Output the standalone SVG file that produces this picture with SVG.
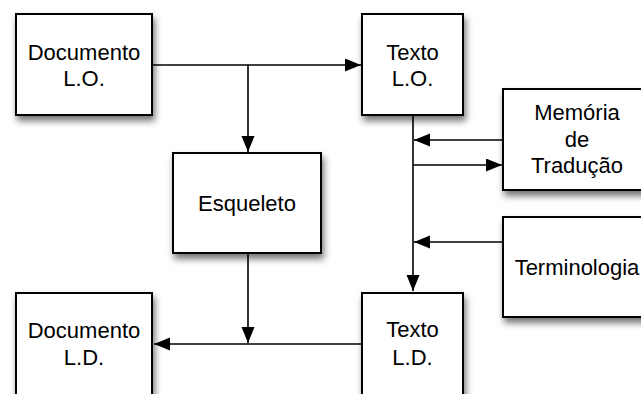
<svg xmlns="http://www.w3.org/2000/svg" width="641" height="394" viewBox="0 0 641 394">
<defs>
<filter id="sh" x="-20%" y="-20%" width="150%" height="150%">
<feDropShadow dx="2" dy="5" stdDeviation="3.5" flood-color="#000" flood-opacity="0.55"/>
</filter>
<marker id="ah" markerUnits="userSpaceOnUse" markerWidth="18" markerHeight="14" refX="16" refY="6.5" orient="auto">
<path d="M0,0 L16,6.5 L0,13 Z" fill="#000"/>
</marker>
</defs>
<style>
.box{fill:#fff;stroke:#000;stroke-width:2;filter:url(#sh)}
.lbl{font-family:"Liberation Sans",Arial,sans-serif;font-size:22px;fill:#000;text-anchor:middle}
.c{fill:none;stroke:#000;stroke-width:1.6}
</style>
<g id="connectors">
<line class="c" x1="153" y1="65" x2="361" y2="65" marker-end="url(#ah)"/>
<line class="c" x1="248" y1="65" x2="248" y2="152" marker-end="url(#ah)"/>
<line class="c" x1="413" y1="115" x2="413" y2="291" marker-end="url(#ah)"/>
<line class="c" x1="502" y1="140" x2="414" y2="140" marker-end="url(#ah)"/>
<line class="c" x1="413" y1="165" x2="502" y2="165" marker-end="url(#ah)"/>
<line class="c" x1="502" y1="242" x2="414" y2="242" marker-end="url(#ah)"/>
<line class="c" x1="361" y1="344" x2="154" y2="344" marker-end="url(#ah)"/>
<line class="c" x1="248" y1="253" x2="248" y2="343" marker-end="url(#ah)"/>
</g>
<g id="doc-lo">
<rect class="box" x="16" y="14" width="136" height="101"/>
<text class="lbl" x="84" y="60">Documento</text>
<text class="lbl" x="84" y="86">L.O.</text>
</g>
<g id="texto-lo">
<rect class="box" x="362" y="14" width="101" height="101"/>
<text class="lbl" x="412.5" y="60">Texto</text>
<text class="lbl" x="412.5" y="86">L.O.</text>
</g>
<g id="esqueleto">
<rect class="box" x="173" y="153" width="148" height="100"/>
<text class="lbl" x="247" y="211">Esqueleto</text>
</g>
<g id="memoria">
<rect class="box" x="503" y="89" width="148" height="101"/>
<text class="lbl" x="577" y="120">Memória</text>
<text class="lbl" x="577" y="147">de</text>
<text class="lbl" x="577" y="173">Tradução</text>
</g>
<g id="terminologia">
<rect class="box" x="503" y="217" width="148" height="100"/>
<text class="lbl" x="577" y="275">Terminologia</text>
</g>
<g id="doc-ld">
<rect class="box" x="16" y="293" width="136" height="110"/>
<text class="lbl" x="84" y="338">Documento</text>
<text class="lbl" x="84" y="365">L.D.</text>
</g>
<g id="texto-ld">
<rect class="box" x="362" y="293" width="101" height="110"/>
<text class="lbl" x="412.5" y="337">Texto</text>
<text class="lbl" x="412.5" y="365">L.D.</text>
</g>
</svg>
